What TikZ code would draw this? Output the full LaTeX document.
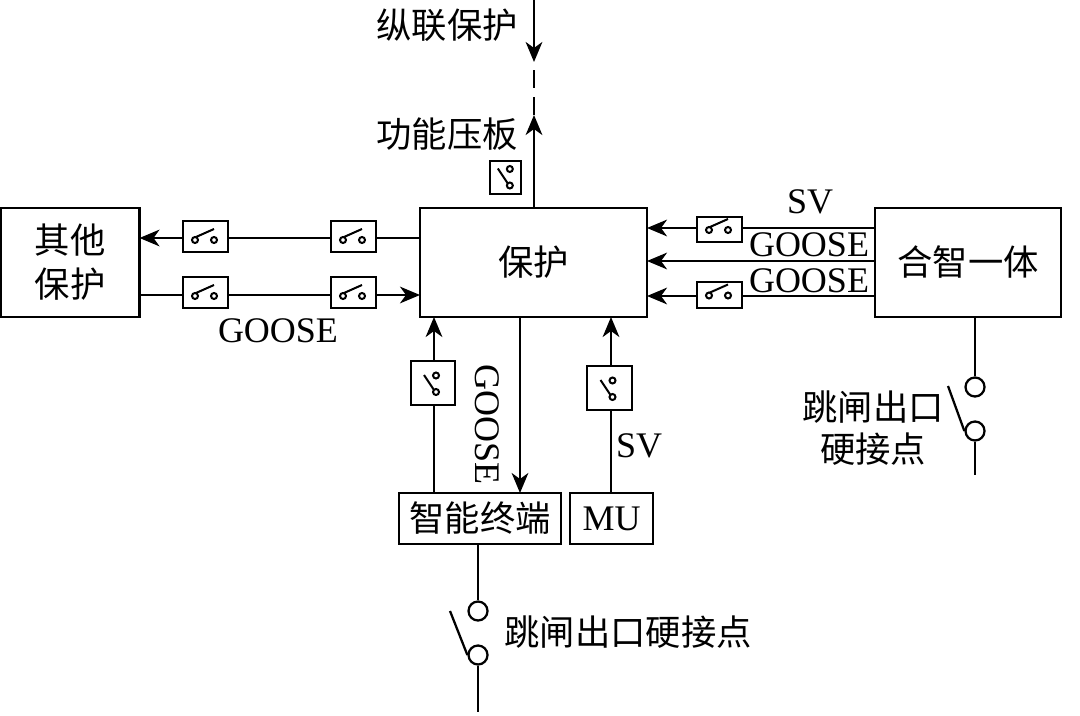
\documentclass[tikz,border=0pt]{standalone}
\usepackage{fontspec}
\setmainfont{Liberation Serif}
\newfontfamily\cjk{Noto Sans CJK SC}
\usetikzlibrary{arrows.meta}
\tikzset{
  px/.style={x=0.75pt,y=-0.75pt},
  conn/.style={line width=1.7pt},
  arr/.style={conn,-{Stealth[length=15pt,width=12.5pt,inset=4.5pt]}},
  bx/.style={draw,line width=1.8pt,inner sep=0pt,outer sep=0pt,fill=white,align=center,font=\cjk\fontsize{26.5}{33}\selectfont},
  hsw/.style={draw,line width=1.8pt,inner sep=0pt,outer sep=0pt,fill=white,minimum width=33.75pt},
  vsw/.style={draw,line width=1.8pt,inner sep=0pt,outer sep=0pt,fill=white},
  cn/.style={inner sep=0pt,font=\cjk\fontsize{26.5}{33}\selectfont,align=center},
  lat/.style={inner sep=0pt,font=\fontsize{27}{30}\selectfont},
  hblade/.pic={
    \draw[line width=1.5pt] (-10.5,3.5) circle (3);
    \draw[line width=1.5pt] (8.5,3.5) circle (3);
    \draw[line width=1.5pt] (-9.5,0.5) -- (8.5,-7.5);
  },
  vblade/.pic={
    \draw[line width=1.5pt] (3,-7.5) circle (3);
    \draw[line width=1.5pt] (3,9) circle (3);
    \draw[line width=1.5pt] (-9,-8) -- (1,7);
  }
}
\begin{document}
\begin{tikzpicture}[px]
\useasboundingbox (0,0) rectangle (1080,716);
% main boxes
\node[bx,minimum width=104.25pt,minimum height=81.75pt] (oth) at (70,262.5) {其他\\保护};
\node[bx,minimum width=170.25pt,minimum height=81.75pt] (prot) at (533.5,262.5) {保护};
\node[bx,minimum width=139.5pt,minimum height=81.75pt] (hz) at (968,262.5) {合智一体};
\node[bx,minimum width=121.5pt,minimum height=38.25pt] (term) at (480,518.5) {智能终端};
\node[bx,minimum width=62.25pt,minimum height=38.25pt,font=\fontsize{27}{30}\selectfont] (mu) at (611.5,518.5) {MU};
% line levels
\coordinate (l1) at (0,238);
\coordinate (l2) at (0,295);
\coordinate (r1) at (0,228);
\coordinate (r2) at (0,261);
\coordinate (r3) at (0,296);
\coordinate (vl) at (434,0);
\coordinate (vg) at (520,0);
\coordinate (vr) at (611,0);
\coordinate (vt) at (534,0);
% switch boxes
\node[hsw,minimum height=23.25pt] (s1) at (205.5,236.5) {};
\node[hsw,minimum height=23.25pt] (s2) at (353.5,236.5) {};
\node[hsw,minimum height=23.25pt] (s3) at (205.5,292.5) {};
\node[hsw,minimum height=23.25pt] (s4) at (353.5,292.5) {};
\node[hsw,minimum height=18.75pt] (s5) at (719.5,229.5) {};
\node[hsw,minimum height=19.5pt] (s6) at (719.5,295) {};
\node[vsw,minimum width=33pt,minimum height=33pt] (s7) at (433,383) {};
\node[vsw,minimum width=33.75pt,minimum height=33pt] (s8) at (609.5,388) {};
\node[vsw,minimum width=23.25pt,minimum height=24.75pt] (s9) at (505.5,177.5) {};
\pic at (s1) {hblade};
\pic at (s2) {hblade};
\pic at (s3) {hblade};
\pic at (s4) {hblade};
\pic at ([yshift=2.25pt]s5) {hblade};
\pic at ([yshift=2.25pt]s6) {hblade};
\pic at (s7) {vblade};
\pic at (s8) {vblade};
\pic at ([yshift=0.75pt,xshift=1pt]s9) {vblade};
% horizontal connectors
\draw[arr] (s1.west |- l1) -- (oth.east |- l1);
\draw[conn] (s2.west |- l1) -- (s1.east |- l1);
\draw[conn] (prot.west |- l1) -- (s2.east |- l1);
\draw[conn] (oth.east |- l2) -- (s3.west |- l2);
\draw[conn] (s3.east |- l2) -- (s4.west |- l2);
\draw[arr] (s4.east |- l2) -- (prot.west |- l2);
\draw[conn] (hz.west |- r1) -- (s5.east |- r1);
\draw[arr] (s5.west |- r1) -- (prot.east |- r1);
\draw[arr] (hz.west |- r2) -- (prot.east |- r2);
\draw[conn] (hz.west |- r3) -- (s6.east |- r3);
\draw[arr] (s6.west |- r3) -- (prot.east |- r3);
% vertical connectors
\draw[conn] (term.north -| vl) -- (s7.south -| vl);
\draw[arr] (s7.north -| vl) -- (prot.south -| vl);
\draw[arr] (prot.south -| vg) -- (term.north -| vg);
\draw[conn] (mu.north -| vr) -- (s8.south -| vr);
\draw[arr] (s8.north -| vr) -- (prot.south -| vr);
% top
\coordinate (topEnd) at (534,0);
\coordinate (t1) at (534,62);
\coordinate (t2) at (534,115);
\draw[arr] (prot.north -| vt) -- (t2);
\draw[conn,dash pattern=on 13.5pt off 6.75pt] (t2) -- (t1);
\draw[arr] (topEnd) -- (t1);
% hard contacts right
\coordinate (c1) at (975,387);
\coordinate (c2) at (975,431);
\coordinate (c3) at (975,475);
\node[draw,circle,line width=1.7pt,minimum size=14.25pt,inner sep=0pt] (k1) at (c1) {};
\node[draw,circle,line width=1.7pt,minimum size=14.25pt,inner sep=0pt] (k2) at (c2) {};
\draw[conn] (hz.south -| k1) -- (k1.north);
\draw[conn] (k2.south) -- (c3);
\coordinate (b1) at (948,386);
\draw[conn] (b1) -- (k2.west);
% hard contacts bottom
\coordinate (d1) at (478,611);
\coordinate (d2) at (478,655);
\coordinate (d3) at (478,712);
\node[draw,circle,line width=1.7pt,minimum size=14.25pt,inner sep=0pt] (k3) at (d1) {};
\node[draw,circle,line width=1.7pt,minimum size=14.25pt,inner sep=0pt] (k4) at (d2) {};
\draw[conn] (term.south -| k3) -- (k3.north);
\draw[conn] (k4.south) -- (d3);
\coordinate (b2) at (450,611);
\draw[conn] (b2) -- (k4.west);
% labels
\node[cn] (t1l) at (447,25) {纵联保护};
\node[cn] (t2l) at (447,134) {功能压板};
\node[cn] (t3l) at (873,407) {跳闸出口};
\node[cn] (t4l) at (873,449) {硬接点};
\node[cn] (t5l) at (628,632) {跳闸出口硬接点};
\node[lat] (g1) at (278,331) {GOOSE};
\node[lat] (g2) at (809,245) {GOOSE};
\node[lat] (g3) at (809,281) {GOOSE};
\node[lat,rotate=-90] (g4) at (487,425) {GOOSE};
\node[lat] (v1) at (810,202) {SV};
\node[lat] (v2) at (639,446) {SV};
\end{tikzpicture}
\end{document}
